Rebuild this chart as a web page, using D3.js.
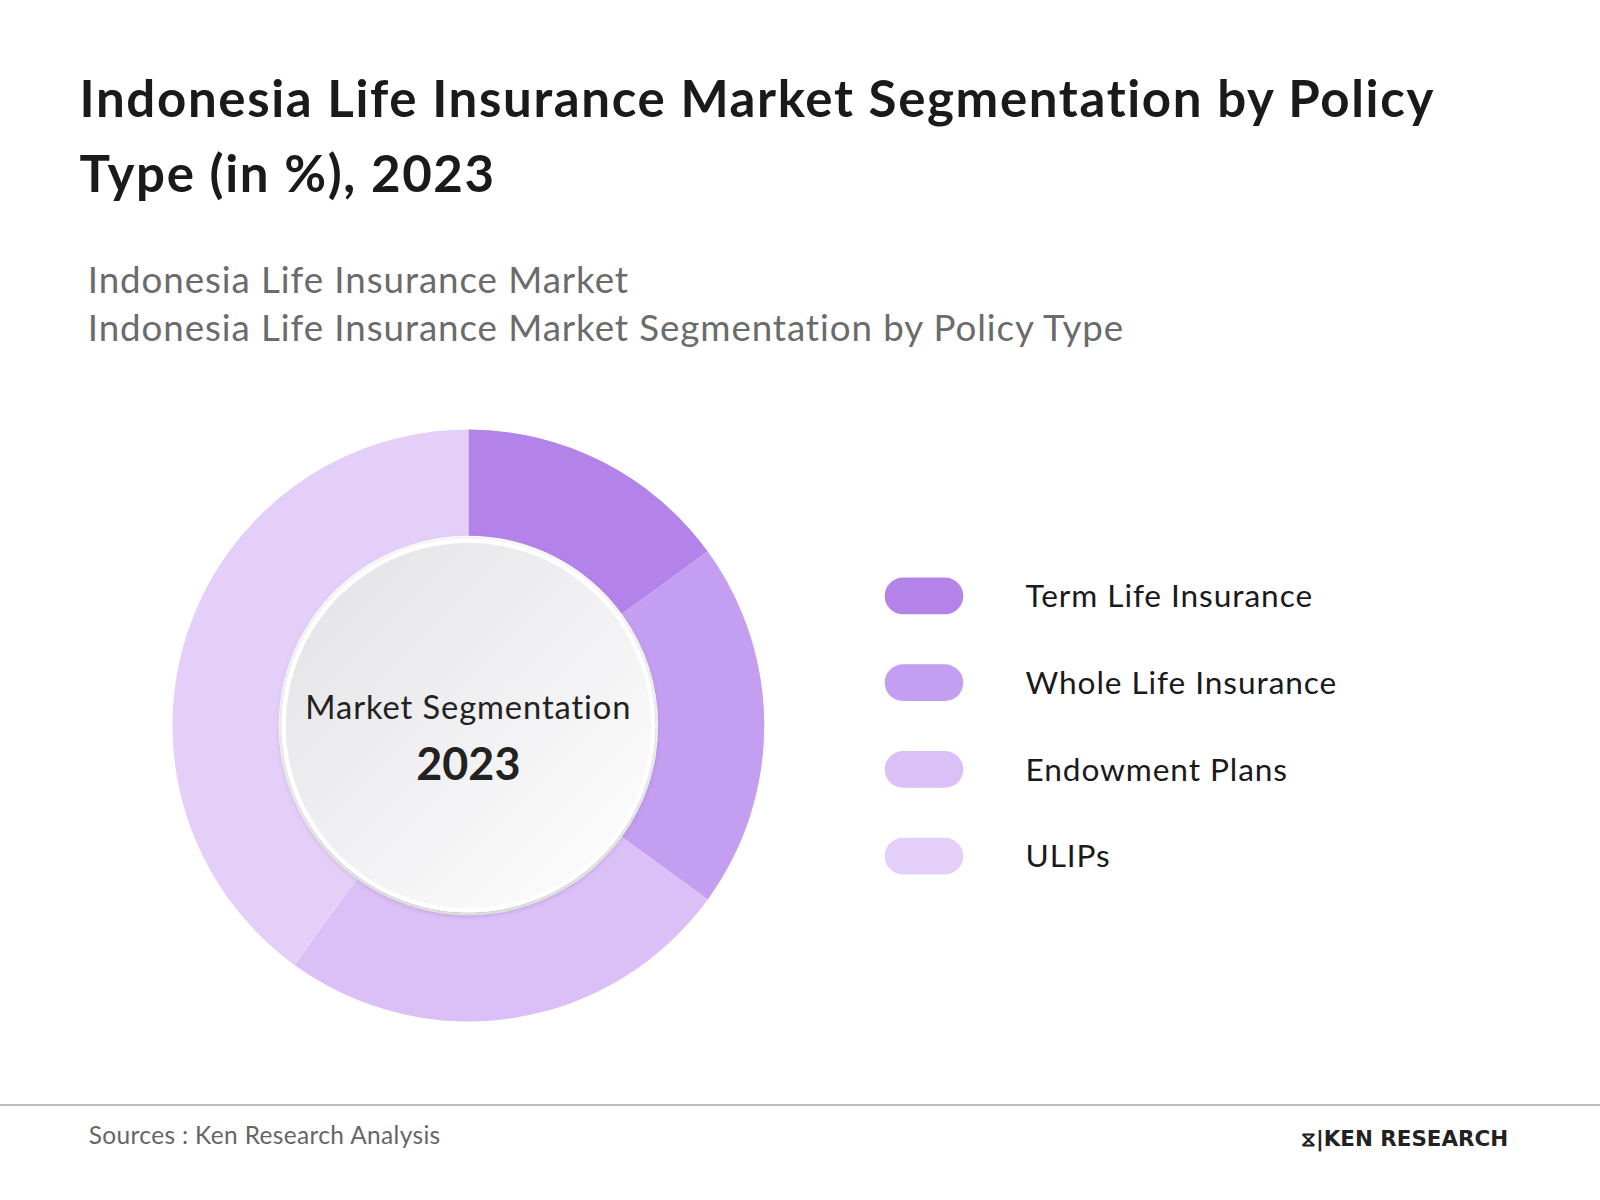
<!DOCTYPE html>
<html><head><meta charset="utf-8">
<script src="https://cdn.jsdelivr.net/npm/d3@7"></script>
<style>body{margin:0;background:#fff;font-family:Lato,sans-serif}text{font-variant-ligatures:none}</style>
</head><body><svg id="c" width="1600" height="1200"></svg>
<script>
const categories=["Term Life Insurance","Whole Life Insurance","Endowment Plans","ULIPs"];
const values=[15,20,25,40];
const colors=["#b383ea","#c49ef0","#dbbff7","#e4cff8"];
const svg=d3.select("#c");
const k=1600/1568;
const g0=svg.append("g").attr("transform",`scale(${k})`);
g0.append("text").attr("x",78).attr("y",115).attr("font-size",50).attr("letter-spacing",1.6).attr("font-weight",700).attr("fill","#1a1a1a").text("Indonesia Life Insurance Market Segmentation by Policy");
g0.append("text").attr("x",78).attr("y",188).attr("font-size",50).attr("letter-spacing",1.6).attr("font-weight",700).attr("fill","#1a1a1a").text("Type (in %), 2023");
g0.append("text").attr("x",86).attr("y",287).attr("font-size",36).attr("letter-spacing",0.9).attr("fill","#6b6b6b").text("Indonesia Life Insurance Market");
g0.append("text").attr("x",86).attr("y",334).attr("font-size",36).attr("letter-spacing",0.9).attr("fill","#6b6b6b").text("Indonesia Life Insurance Market Segmentation by Policy Type");
const defs=svg.append("defs");
const gr=defs.append("linearGradient").attr("id","gg").attr("x1","0").attr("y1","0").attr("x2","1").attr("y2","1");
gr.append("stop").attr("offset","0").attr("stop-color","#e2e2e6");
gr.append("stop").attr("offset","1").attr("stop-color","#ffffff");
const f=defs.append("filter").attr("id","sh").attr("x","-20%").attr("y","-20%").attr("width","140%").attr("height","140%");
f.append("feDropShadow").attr("dx",0).attr("dy",2).attr("stdDeviation",3).attr("flood-color","#000").attr("flood-opacity",0.25);
const cx=459,cy=711;
const g=g0.append("g").attr("transform",`translate(${cx},${cy})`);
const pie=d3.pie().sort(null)(values);
const arc=d3.arc().innerRadius(186).outerRadius(290);
g.selectAll("path").data(pie).join("path").attr("d",arc).attr("fill",(d,i)=>colors[i]);
g.append("circle").attr("r",183).attr("fill","#fff").attr("filter","url(#sh)");
g.append("circle").attr("r",179).attr("fill","url(#gg)");
g.append("text").attr("y",-6).attr("text-anchor","middle").attr("font-size",32).attr("letter-spacing",0.9).attr("fill","#222").text("Market Segmentation");
g.append("text").attr("y",53).attr("text-anchor","middle").attr("font-size",44).attr("font-weight",700).attr("fill","#222").text("2023");
const lg=g0.append("g");
categories.forEach((c,i)=>{
  const y=584+i*85;
  lg.append("rect").attr("x",867).attr("y",y-18).attr("width",77).attr("height",36).attr("rx",18).attr("fill",colors[i]);
  lg.append("text").attr("x",1005).attr("y",y+11).attr("font-size",31).attr("letter-spacing",0.9).attr("fill","#1a1a1a").text(c);
});
g0.append("line").attr("x1",0).attr("x2",1568).attr("y1",1083).attr("y2",1083).attr("stroke","#bdbdbd").attr("stroke-width",2);
g0.append("text").attr("x",87).attr("y",1121).attr("font-size",24).attr("letter-spacing",0.35).attr("fill","#666").text("Sources : Ken Research Analysis");
g0.append("text").attr("x",1478).attr("y",1123).attr("text-anchor","end").attr("font-size",21).attr("font-weight",700).attr("fill","#222").attr("font-family","DejaVu Sans").text("⧖|KEN RESEARCH");
</script></body></html>
